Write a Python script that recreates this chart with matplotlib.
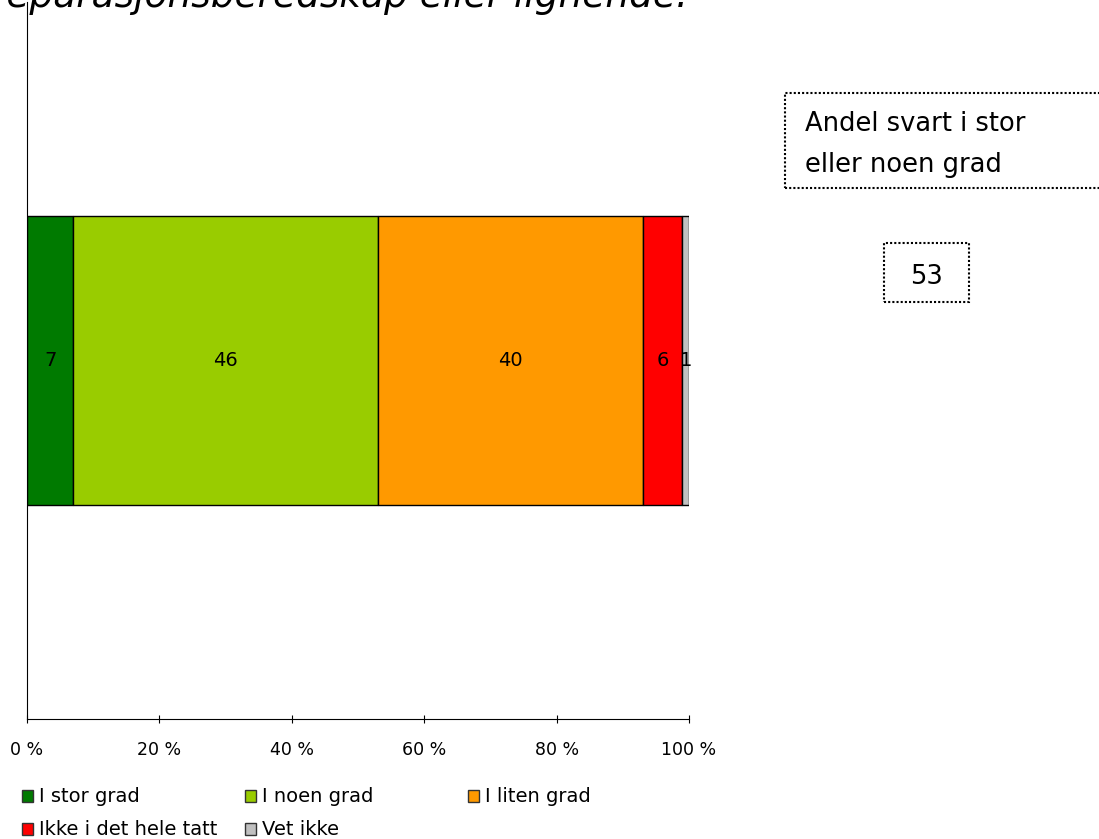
import matplotlib
matplotlib.use('Agg')
import matplotlib.pyplot as plt
from matplotlib.patches import Rectangle

categories = ['I stor grad', 'I noen grad', 'I liten grad', 'Ikke i det hele tatt', 'Vet ikke']
values = [7, 46, 40, 6, 1]
colors = ['#007A00', '#99CC00', '#FF9900', '#FF0000', '#C0C0C0']
xticks = [0, 20, 40, 60, 80, 100]
share_label = 'Andel svart i stor\neller noen grad'
share_value = 53

W, H = 1099, 839


def fx(px):
    return px / W


def fy(py):
    return 1 - py / H


plt.rcParams['font.family'] = 'DejaVu Sans'
fig = plt.figure(figsize=(W / 100, H / 100), dpi=100)
ax = fig.add_axes([fx(27), fy(719), fx(689) - fx(27), fy(2) - fy(719)])

left = 0
for cat, val, col in zip(categories, values, colors):
    ax.barh(0, val, left=left, height=0.403, color=col, edgecolor='black', linewidth=1)
    ax.text(left + val / 2, 0, str(val), ha='center', va='center', fontsize=14)
    left += val

ax.set_xlim(0, 100)
ax.set_ylim(-0.5, 0.5)
ax.set_xticks(xticks)
ax.set_xticklabels([f'{t} %' for t in xticks], fontsize=12.5)
ax.tick_params(axis='x', direction='inout', length=6, pad=13)
ax.set_yticks([])
ax.spines['top'].set_visible(False)
ax.spines['right'].set_visible(False)

# title, cut off at the top like the original
fig.text(fx(688), fy(7), 'reparasjonsberedskap eller lignende.', ha='right', va='baseline',
         fontsize=27, style='italic')

# legend laid out as a grid
col_x = [22, 245, 468]
row_y = [802, 835]
for i, (cat, col) in enumerate(zip(categories, colors)):
    r, c = divmod(i, 3)
    x0, yb = col_x[c], row_y[r]
    fig.patches.append(Rectangle((fx(x0), fy(yb)), fx(11), 12 / H, transform=fig.transFigure,
                                 facecolor=col, edgecolor='#333333', linewidth=1))
    fig.text(fx(x0 + 17), fy(yb), cat, ha='left', va='baseline', fontsize=14)

# side box with share
fig.patches.append(Rectangle((fx(785), fy(188)), fx(330), 95 / H, transform=fig.transFigure,
                             facecolor='none', edgecolor='black', linewidth=1.5, linestyle=(0, (1, 1))))
line1, line2 = share_label.split('\n')
fig.text(fx(805), fy(131), line1, ha='left', va='baseline', fontsize=18.5)
fig.text(fx(805), fy(172), line2, ha='left', va='baseline', fontsize=18.5)
fig.patches.append(Rectangle((fx(884), fy(302)), fx(85), 59 / H, transform=fig.transFigure,
                             facecolor='none', edgecolor='black', linewidth=1.5, linestyle=(0, (1, 1))))
fig.text(fx(926.5), fy(284), str(share_value), ha='center', va='baseline', fontsize=18.5)

fig.savefig('out.png', dpi=100)
